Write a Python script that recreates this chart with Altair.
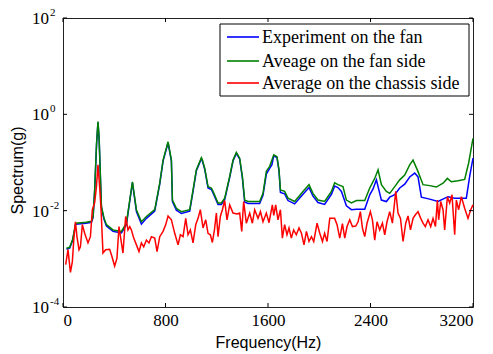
import altair as alt
import pandas as pd

# Frequencies (Hz) and log10 spectrum amplitude (g)
green_hz = [27, 52, 75, 99, 140, 180, 222, 235, 247, 262, 273, 282, 292, 300, 320, 339, 390, 456, 495, 521, 542,
            573, 612, 651, 716, 755, 781, 820, 846, 854, 885, 924, 989, 1015, 1041, 1080, 1088, 1106, 1132, 1158,
            1171, 1210, 1236, 1262, 1301, 1327, 1353, 1379, 1400, 1418, 1444, 1535, 1561, 1587, 1613, 1645, 1670,
            1686, 1697, 1730, 1756, 1808, 1873, 1920, 1951, 1990, 2042, 2095, 2120, 2146, 2185, 2212, 2251, 2290,
            2355, 2394, 2433, 2459, 2485, 2524, 2550, 2589, 2628, 2667, 2706, 2732, 2771, 2810, 2862, 2914, 2966,
            3000, 3031, 3083, 3135, 3166, 3200]
green_log = [-2.78, -2.76, -2.6, -2.26, -2.25, -2.24, -2.22, -2.12, -1.57, -0.6, -0.15, -0.5, -1.29, -1.91, -2.15,
             -2.29, -2.40, -2.43, -2.26, -1.78, -1.40, -1.98, -2.23, -2.12, -1.98, -1.43, -0.95, -0.57, -0.95, -1.78,
             -1.95, -2.02, -1.98, -1.57, -1.15, -0.90, -0.95, -1.12, -1.50, -1.53, -1.60, -1.84, -1.84, -1.74, -1.29,
             -0.95, -0.79, -0.91, -1.29, -1.78, -1.81, -1.81, -1.64, -1.18, -1.08, -0.84, -0.88, -1.15, -1.57, -1.60,
             -1.74, -1.81, -1.60, -1.46, -1.64, -1.78, -1.81, -1.60, -1.42, -1.46, -1.50, -1.78, -1.84, -1.79, -1.79,
             -1.53, -1.33, -1.15, -1.46, -1.60, -1.64, -1.50, -1.36, -1.26, -1.05, -0.95, -1.19, -1.46, -1.48, -1.51,
             -1.43, -1.33, -1.40, -1.38, -1.35, -1.01, -0.50]

blue_hz = [27, 52, 75, 99, 140, 180, 222, 235, 247, 262, 273, 282, 292, 300, 320, 339, 390, 456, 495, 521, 542,
           573, 612, 651, 716, 755, 781, 820, 846, 854, 885, 924, 989, 1015, 1041, 1080, 1088, 1106, 1132, 1158,
           1171, 1210, 1236, 1262, 1301, 1327, 1353, 1379, 1400, 1418, 1444, 1535, 1561, 1587, 1613, 1630, 1645,
           1670, 1686, 1697, 1730, 1756, 1808, 1873, 1920, 1951, 1990, 2042, 2095, 2120, 2146, 2173, 2212, 2251,
           2290, 2355, 2394, 2420, 2446, 2485, 2524, 2550, 2589, 2628, 2667, 2706, 2745, 2771, 2797, 2862, 2927,
           3005, 3057, 3148, 3174, 3200]
blue_log = [-2.80, -2.78, -2.62, -2.28, -2.27, -2.26, -2.24, -2.14, -1.60, -0.62, -0.17, -0.52, -1.31, -1.94, -2.18,
            -2.32, -2.43, -2.46, -2.29, -1.80, -1.42, -2.02, -2.28, -2.16, -2.01, -1.45, -0.97, -0.59, -0.97, -1.81,
            -1.99, -2.06, -2.01, -1.60, -1.17, -0.92, -0.97, -1.14, -1.53, -1.56, -1.63, -1.87, -1.87, -1.77, -1.31,
            -0.97, -0.81, -0.93, -1.32, -1.82, -1.85, -1.85, -1.68, -1.24, -1.12, -1.05, -0.86, -0.90, -1.18, -1.62,
            -1.65, -1.79, -1.86, -1.66, -1.52, -1.70, -1.83, -1.87, -1.66, -1.49, -1.52, -1.60, -1.90, -1.98, -1.97,
            -1.97, -1.67, -1.55, -1.36, -1.78, -1.81, -1.72, -1.67, -1.53, -1.45, -1.30, -1.22, -1.30, -1.72, -1.76,
            -1.81, -1.71, -1.74, -1.74, -1.29, -0.91]

red_hz = [21, 39, 58, 73, 84, 97, 109, 125, 136, 151, 169, 195, 214, 229, 247, 261, 273, 286, 297, 312, 333, 364,
          382, 403, 421, 437, 456, 468, 489, 507, 521, 534, 552, 573, 593, 612, 630, 651, 671, 690, 716, 734, 755,
          781, 802, 820, 846, 872, 898, 916, 937, 958, 976, 994, 1015, 1036, 1054, 1072, 1093, 1114, 1132, 1150,
          1166, 1182, 1197, 1210, 1228, 1244, 1262, 1280, 1301, 1327, 1358, 1379, 1395, 1410, 1431, 1457, 1478,
          1496, 1522, 1541, 1561, 1587, 1608, 1634, 1645, 1660, 1678, 1697, 1712, 1730, 1748, 1764, 1782, 1800,
          1821, 1842, 1861, 1881, 1900, 1920, 1939, 1957, 1983, 2004, 2025, 2042, 2061, 2082, 2120, 2139, 2160,
          2181, 2199, 2217, 2238, 2259, 2285, 2303, 2321, 2337, 2355, 2373, 2399, 2415, 2433, 2451, 2472, 2493,
          2511, 2529, 2550, 2571, 2597, 2615, 2634, 2654, 2675, 2693, 2712, 2732, 2749, 2771, 2792, 2810, 2828,
          2849, 2870, 2888, 2907, 2922, 2932, 2948, 2966, 2979, 3000, 3018, 3036, 3057, 3070, 3088, 3109, 3135,
          3161, 3182, 3200]
red_log = [-3.12, -2.81, -3.28, -3.06, -2.61, -2.23, -2.54, -2.81, -2.75, -2.29, -2.47, -2.67, -2.54, -1.98, -1.84,
           -1.50, -1.05, -1.50, -1.98, -2.88, -2.81, -2.80, -2.95, -3.15, -2.99, -2.33, -2.67, -2.88, -2.12, -2.40,
           -2.33, -2.40, -2.57, -2.71, -2.85, -2.67, -2.75, -2.61, -2.67, -2.54, -2.57, -2.85, -2.54, -2.43, -2.29,
           -2.11, -2.19, -2.47, -2.71, -2.50, -2.54, -2.16, -2.50, -2.40, -2.67, -2.29, -2.16, -1.98, -2.36, -2.19,
           -2.47, -2.50, -2.66, -2.40, -2.05, -2.54, -2.12, -1.98, -1.79, -2.19, -1.88, -2.05, -2.07, -2.05, -2.43,
           -1.81, -2.26, -2.05, -2.26, -1.98, -2.16, -2.02, -2.23, -2.05, -2.25, -1.88, -2.10, -1.88, -2.19, -1.98,
           -2.57, -2.29, -2.50, -2.36, -2.57, -2.40, -2.50, -2.36, -2.47, -2.71, -2.43, -2.64, -2.54, -2.64, -2.26,
           -2.47, -2.64, -2.47, -2.64, -2.16, -2.16, -2.29, -2.57, -2.27, -2.57, -2.33, -2.19, -2.33, -2.32, -2.23,
           -2.02, -2.36, -2.54, -2.26, -2.02, -2.19, -2.61, -2.23, -2.40, -2.26, -2.50, -2.23, -2.02, -2.26, -1.60,
           -2.05, -2.16, -2.64, -2.26, -2.11, -2.40, -2.16, -2.09, -2.02, -2.16, -2.26, -2.33, -2.19, -2.33, -2.16,
           -2.33, -1.78, -2.19, -1.81, -1.98, -2.40, -1.71, -1.84, -1.67, -2.50, -1.78, -1.98, -1.71, -1.95, -2.16,
           -1.98, -1.88]

series_names = ["Experiment on the fan", "Aveage on the fan side", "Average on the chassis side"]
series_colors = ["#0000ff", "#008000", "#ff0000"]
x_ticks = [0, 800, 1600, 2400, 3200]
y_exponents = [-4, -2, 0, 2]
y_exp_labels = ["-4", "-2", "0", "2"]

W, H = 410, 289


def frame(hz, logs, name):
    return pd.DataFrame({"f": hz, "s": [10 ** v for v in logs], "series": name})


df = pd.concat([
    frame(blue_hz, blue_log, series_names[0]),
    frame(green_hz, green_log, series_names[1]),
    frame(red_hz, red_log, series_names[2]),
])

xscale = alt.Scale(domain=[0, 3200], nice=False)
yscale = alt.Scale(type="log", domain=[1e-4, 1e2], nice=False)

color = alt.Color("series:N", scale=alt.Scale(domain=series_names, range=series_colors), legend=None)

lines = []
for name in series_names:
    lines.append(
        alt.Chart(df).transform_filter(alt.datum.series == name).mark_line(strokeWidth=1.5).encode(
            x=alt.X("f:Q", scale=xscale,
                    axis=alt.Axis(values=x_ticks, ticks=False, domain=False, grid=False, format="d",
                                  labelFont="Liberation Serif", labelFontSize=17, labelColor="#000",
                                  labelPadding=5, title="Frequency(Hz)", titleFont="Liberation Sans",
                                  titleFontSize=16, titleFontWeight="normal", titleColor="#000",
                                  titleBaseline="alphabetic", titleY=40)),
            y=alt.Y("s:Q", scale=yscale,
                    axis=alt.Axis(labels=False, ticks=False, domain=False, grid=False,
                                  title="Spectrum(g)", titleFont="Liberation Sans", titleFontSize=16,
                                  titleFontWeight="normal", titleColor="#000", titleX=-41, titleY=152,
                                  titleBaseline="alphabetic", titleAlign="center")),
            color=color,
        )
    )

xt = pd.DataFrame({"f": x_ticks})
yt = pd.DataFrame({"s": [10.0 ** e for e in y_exponents], "e": y_exp_labels})

ticks = [
    alt.Chart(xt).mark_rule(color="#000", strokeWidth=1).encode(
        x=alt.X("f:Q", scale=xscale), y=alt.value(H), y2=alt.value(H - 4)),
    alt.Chart(xt).mark_rule(color="#000", strokeWidth=1).encode(
        x=alt.X("f:Q", scale=xscale), y=alt.value(0), y2=alt.value(4)),
    alt.Chart(yt).mark_rule(color="#000", strokeWidth=1).encode(
        y=alt.Y("s:Q", scale=yscale), x=alt.value(0), x2=alt.value(4)),
    alt.Chart(yt).mark_rule(color="#000", strokeWidth=1).encode(
        y=alt.Y("s:Q", scale=yscale), x=alt.value(W), x2=alt.value(W - 4)),
]

ylab_base = alt.Chart(yt).mark_text(font="Liberation Serif", fontSize=17, align="right",
                                    baseline="middle", dy=1, color="#000").encode(
    y=alt.Y("s:Q", scale=yscale), x=alt.value(-14), text=alt.value("10"))
ylab_exp = alt.Chart(yt).mark_text(font="Liberation Serif", fontSize=11, align="left",
                                   baseline="middle", dy=-5, color="#000").encode(
    y=alt.Y("s:Q", scale=yscale), x=alt.value(-13), text="e:N")

# Legend box (drawn as decoration)
legend_parts = [
    alt.Chart(xt).transform_filter(alt.datum.f == 0).mark_rect(
        fill="#fff", stroke="#000", strokeWidth=1).encode(
        x=alt.value(157), x2=alt.value(406), y=alt.value(6), y2=alt.value(78)),
]
row_y = [19, 43, 65]
for i, name in enumerate(series_names):
    legend_parts.append(
        alt.Chart(xt).transform_filter(alt.datum.f == 0).mark_rule(
            color=series_colors[i], strokeWidth=1.6).encode(
            x=alt.value(164), x2=alt.value(196), y=alt.value(row_y[i])))
    legend_parts.append(
        alt.Chart(xt).transform_filter(alt.datum.f == 0).mark_text(
            font="Liberation Serif", fontSize=18, align="left", baseline="middle",
            color="#000", text=name).encode(
            x=alt.value(199), y=alt.value(row_y[i] + 1)))

chart = alt.layer(*lines, *ticks, ylab_base, ylab_exp, *legend_parts).properties(
    width=W, height=H,
    autosize=alt.AutoSizeParams(type="none"),
    padding={"left": 63, "top": 18, "right": 20, "bottom": 47},
    background="#ffffff",
).configure_view(stroke="#222", strokeWidth=1)

chart.save("out.html", embed_options={"renderer": "svg", "actions": False})
